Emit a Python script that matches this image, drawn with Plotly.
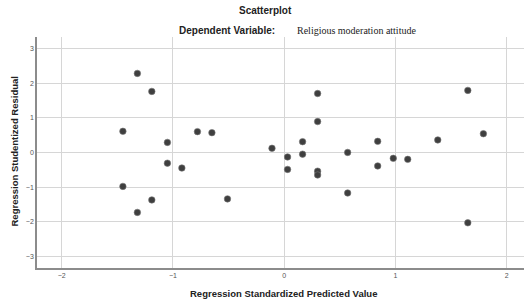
import plotly.graph_objects as go

predicted = [-1.32, -1.19, -1.45, -0.78, -0.65, -1.05, -0.11, -1.05, -0.92, -1.45,
             -0.51, -1.19, -1.32,
             0.30, 1.65, 0.30, 0.165, 0.84, 1.38, 1.79, 0.165, 0.03, 0.57,
             0.98, 1.11, 0.03, 0.84, 0.30, 0.30, 0.57, 1.65]
residual = [2.28, 1.76, 0.61, 0.60, 0.57, 0.29, 0.12, -0.31, -0.45, -0.98,
            -1.34, -1.37, -1.73,
            1.70, 1.79, 0.89, 0.31, 0.32, 0.36, 0.54, -0.05, -0.13, 0.00,
            -0.17, -0.20, -0.49, -0.39, -0.54, -0.65, -1.17, -2.03]
x_ticks = [-2, -1, 0, 1, 2]
y_ticks = [-3, -2, -1, 0, 1, 2, 3]

title = "Scatterplot"
subtitle_label = "Dependent Variable:"
subtitle_value = "Religious moderation attitude"
x_title = "Regression Standardized Predicted Value"
y_title = "Regression Studentized Residual"

W, H = 526, 303
L, R, T, B = 37, 2, 37, 35
pw, ph = W - L - R, H - T - B


def px(x):
    return (x - L) / pw


def py(y):
    return (H - B - y) / ph


fig = go.Figure()
fig.add_trace(go.Scatter(
    x=predicted, y=residual, mode="markers",
    marker=dict(size=6.5, color="#3f3f3f", line=dict(width=0.6, color="#777777")),
    showlegend=False, cliponaxis=False,
))

axis_common = dict(
    showgrid=True, gridcolor="#d6d6d6", gridwidth=1.3,
    zeroline=False, ticks="", showline=True, linecolor="#8c8c8c", linewidth=1.6,
    tickfont=dict(family="Liberation Sans", size=7, color="#555555"),
)
fig.update_xaxes(range=[-2.222, 2.155], tickvals=x_ticks, **axis_common)
fig.update_yaxes(range=[-3.334, 3.33], tickvals=y_ticks, **axis_common)

ann = [
    dict(text="<b>" + title + "</b>", x=px(265), y=py(10.5),
         font=dict(family="Liberation Sans", size=10, color="#222222")),
    dict(text="<b>" + subtitle_label + "</b>", x=px(227), y=py(30.5),
         font=dict(family="Liberation Sans", size=10, color="#222222")),
    dict(text=subtitle_value, x=px(356), y=py(30),
         font=dict(family="Liberation Serif", size=10, color="#222222")),
    dict(text="<b>" + x_title + "</b>", x=px(283), y=py(293),
         font=dict(family="Liberation Sans", size=9.5, color="#222222")),
    dict(text="<b>" + y_title + "</b>", x=px(13.5), y=py(152), textangle=-90,
         font=dict(family="Liberation Sans", size=9.5, color="#222222")),
]
for a in ann:
    a.update(xref="paper", yref="paper", showarrow=False,
             xanchor="center", yanchor="middle")
fig.update_layout(
    width=W, height=H, margin=dict(l=L, r=R, t=T, b=B),
    plot_bgcolor="white", paper_bgcolor="white", annotations=ann,
)
fig.write_html(
    "out.html",
    config={"displayModeBar": False},
    post_script="document.body.style.margin='0';document.body.style.overflow='hidden';",
)
